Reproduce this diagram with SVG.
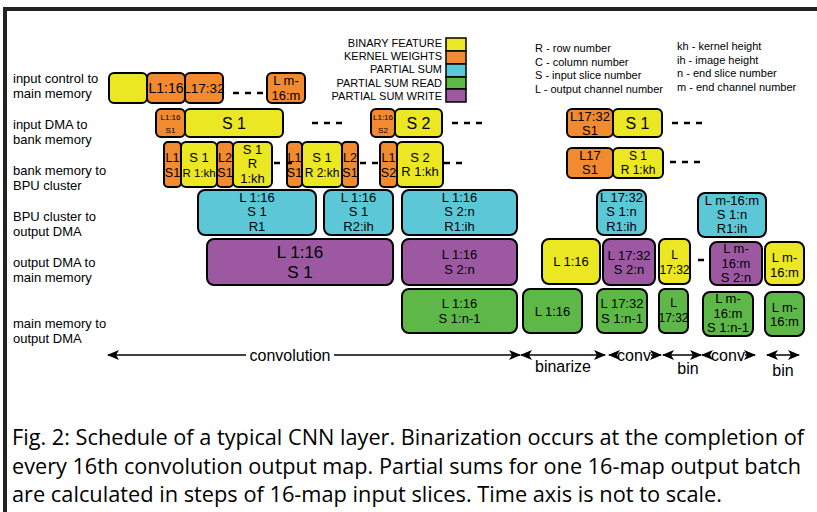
<svg xmlns="http://www.w3.org/2000/svg" width="817" height="512" viewBox="0 0 817 512">
<defs>
<marker id="ah" viewBox="0 0 12 10" refX="11" refY="5" markerWidth="12" markerHeight="10" markerUnits="userSpaceOnUse" orient="auto-start-reverse">
<path d="M0,0 L12,5 L0,10 L3,5 Z" fill="#000"/>
</marker>
<style>
.b{stroke:#000;stroke-width:2;}
.y{fill:#EBE723;}
.o{fill:#F28A30;}
.c{fill:#5CC8D7;}
.g{fill:#5DB848;}
.p{fill:#9C58A1;}
text{font-family:"Liberation Sans",Arial,sans-serif;fill:#000;}
.t{text-anchor:middle;font-size:13px;}
.lab{font-size:13px;}
.leg{font-size:11px;text-anchor:end;}
.ab{font-size:11px;}
.ds{stroke:#000;stroke-width:2.5;stroke-dasharray:6,6;fill:none;}
.ar{stroke:#000;stroke-width:1.5;fill:none;}
.cap{font-family:"Open Sans","Noto Sans",sans-serif;font-size:21px;}
</style>
</defs>
<rect width="817" height="512" fill="#fff"/>
<path d="M5,512 V9 H817" fill="none" stroke="#222" stroke-width="4"/>

<g id="row-labels" class="lab">
<text x="13" y="83">input control to</text><text x="13" y="98">main memory</text>
<text x="13" y="129">input DMA to</text><text x="13" y="144">bank memory</text>
<text x="13" y="175">bank memory to</text><text x="13" y="190">BPU cluster</text>
<text x="13" y="221">BPU cluster to</text><text x="13" y="236">output DMA</text>
<text x="13" y="267">output DMA to</text><text x="13" y="282">main memory</text>
<text x="13" y="328">main memory to</text><text x="13" y="343">output DMA</text>
</g>

<g id="legend">
<text class="leg" x="442" y="47">BINARY FEATURE</text>
<text class="leg" x="442" y="60">KERNEL WEIGHTS</text>
<text class="leg" x="442" y="73">PARTIAL SUM</text>
<text class="leg" x="442" y="87">PARTIAL SUM READ</text>
<text class="leg" x="442" y="100">PARTIAL SUM WRITE</text>
<rect class="y" x="446" y="38" width="20" height="13" stroke="#000" stroke-width="1.5"/>
<rect class="o" x="446" y="51" width="20" height="13" stroke="#000" stroke-width="1.5"/>
<rect class="c" x="446" y="64" width="20" height="13" stroke="#000" stroke-width="1.5"/>
<rect class="g" x="446" y="77" width="20" height="12" stroke="#000" stroke-width="1.5"/>
<rect class="p" x="446" y="89" width="20" height="13" stroke="#000" stroke-width="1.5"/>
</g>

<g id="abbrev" class="ab">
<text x="535" y="52">R - row number</text>
<text x="535" y="66">C - column number</text>
<text x="535" y="79">S - input slice number</text>
<text x="535" y="93">L - output channel number</text>
<text x="677" y="50">kh - kernel height</text>
<text x="677" y="64">ih - image height</text>
<text x="677" y="77">n - end slice number</text>
<text x="677" y="91">m - end channel number</text>
</g>

<!-- Row 1 -->
<g id="r1-bin"><rect class="b y" x="109" y="73" width="38" height="30" rx="5"/></g>
<g id="r1-k1"><rect class="b o" x="147" y="73" width="38" height="30" rx="5"/><text class="t" x="166" y="93" style="font-size:14px">L1:16</text></g>
<g id="r1-k2"><rect class="b o" x="185" y="73" width="38" height="30" rx="5"/><text class="t" x="204" y="93" style="font-size:13.5px">L17:32</text></g>
<g id="r1-k3"><rect class="b o" x="267" y="73" width="38" height="30" rx="5"/><text class="t" x="286" y="85" style="font-size:13px">L m-</text><text class="t" x="286" y="100" style="font-size:13px">16:m</text></g>

<!-- Row 2 -->
<g id="r2-k1"><rect class="b o" x="156" y="109" width="29" height="28" rx="5"/><text class="t" x="170.5" y="120" style="font-size:8px">L1:16</text><text class="t" x="170.5" y="133" style="font-size:8px">S1</text></g>
<g id="r2-s1"><rect class="b y" x="185" y="109" width="98" height="28" rx="5"/><text class="t" x="234" y="129" style="font-size:16px">S 1</text></g>
<g id="r2-k2"><rect class="b o" x="371" y="109" width="24" height="28" rx="5"/><text class="t" x="383" y="120" style="font-size:8px">L1:16</text><text class="t" x="383" y="133" style="font-size:8px">S2</text></g>
<g id="r2-s2"><rect class="b y" x="395" y="109" width="47" height="28" rx="5"/><text class="t" x="418.5" y="129" style="font-size:16px">S 2</text></g>
<g id="r2-k3"><rect class="b o" x="567" y="109" width="46" height="28" rx="5"/><text class="t" x="590" y="121" style="font-size:13px">L17:32</text><text class="t" x="590" y="135" style="font-size:13px">S1</text></g>
<g id="r2-s3"><rect class="b y" x="613" y="109" width="49" height="28" rx="5"/><text class="t" x="637.5" y="129" style="font-size:16px">S 1</text></g>

<!-- Row 3 -->
<g id="r3-a1"><rect class="b o" x="164" y="142" width="17" height="45" rx="4"/><text class="t" x="172.5" y="162" style="font-size:12.5px">L1</text><text class="t" x="172.5" y="177" style="font-size:12.5px">S1</text></g>
<g id="r3-a2"><rect class="b y" x="181" y="142" width="36" height="45" rx="5"/><text class="t" x="199" y="162" style="font-size:13px">S 1</text><text class="t" x="199" y="177" style="font-size:11.5px">R 1:kh</text></g>
<g id="r3-a3"><rect class="b o" x="217" y="142" width="16" height="45" rx="4"/><text class="t" x="225" y="162" style="font-size:12.5px">L2</text><text class="t" x="225" y="177" style="font-size:12.5px">S1</text></g>
<g id="r3-a4"><rect class="b y" x="233" y="142" width="39" height="45" rx="5"/><text class="t" x="252.5" y="154" style="font-size:13px">S 1</text><text class="t" x="252.5" y="168" style="font-size:13px">R</text><text class="t" x="252.5" y="183" style="font-size:13px">1:kh</text></g>
<g id="r3-b1"><rect class="b o" x="287" y="142" width="15" height="45" rx="4"/><text class="t" x="294.5" y="162" style="font-size:12.5px">L1</text><text class="t" x="294.5" y="177" style="font-size:12.5px">S1</text></g>
<g id="r3-b2"><rect class="b y" x="302" y="142" width="40" height="45" rx="5"/><text class="t" x="322" y="162" style="font-size:13px">S 1</text><text class="t" x="322" y="177" style="font-size:12px">R 2:kh</text></g>
<g id="r3-b3"><rect class="b o" x="342" y="142" width="16" height="45" rx="4"/><text class="t" x="350" y="162" style="font-size:12.5px">L2</text><text class="t" x="350" y="177" style="font-size:12.5px">S1</text></g>
<g id="r3-c1"><rect class="b o" x="380" y="142" width="17" height="45" rx="4"/><text class="t" x="388.5" y="162" style="font-size:12.5px">L1</text><text class="t" x="388.5" y="177" style="font-size:12.5px">S2</text></g>
<g id="r3-c2"><rect class="b y" x="397" y="142" width="46" height="45" rx="5"/><text class="t" x="420" y="162" style="font-size:13px">S 2</text><text class="t" x="420" y="176" style="font-size:13px">R 1:kh</text></g>
<g id="r3-d1"><rect class="b o" x="567" y="148" width="46" height="30" rx="5"/><text class="t" x="590" y="160" style="font-size:13px">L17</text><text class="t" x="590" y="174" style="font-size:13px">S1</text></g>
<g id="r3-d2"><rect class="b y" x="613" y="148" width="50" height="30" rx="5"/><text class="t" x="638" y="160" style="font-size:12px">S 1</text><text class="t" x="638" y="174" style="font-size:12px">R 1:kh</text></g>

<!-- Row 4 -->
<g id="r4-a"><rect class="b c" x="198" y="190" width="118" height="45" rx="7"/><text class="t" x="257" y="202">L 1:16</text><text class="t" x="257" y="216">S 1</text><text class="t" x="257" y="231">R1</text></g>
<g id="r4-b"><rect class="b c" x="324" y="190" width="69" height="45" rx="7"/><text class="t" x="358.5" y="202">L 1:16</text><text class="t" x="358.5" y="216">S 1</text><text class="t" x="358.5" y="231">R2:ih</text></g>
<g id="r4-c"><rect class="b c" x="402" y="190" width="115" height="45" rx="7"/><text class="t" x="459.5" y="202">L 1:16</text><text class="t" x="459.5" y="216">S 2:n</text><text class="t" x="459.5" y="231">R1:ih</text></g>
<g id="r4-d"><rect class="b c" x="597" y="190" width="49" height="45" rx="7"/><text class="t" x="621.5" y="202">L 17:32</text><text class="t" x="621.5" y="216">S  1:n</text><text class="t" x="621.5" y="231">R1:ih</text></g>
<g id="r4-e"><rect class="b c" x="698" y="193" width="68" height="44" rx="7"/><text class="t" x="732" y="205">L m-16:m</text><text class="t" x="732" y="219">S  1:n</text><text class="t" x="732" y="233">R1:ih</text></g>

<!-- Row 5 -->
<g id="r5-a"><rect class="b p" x="207" y="239" width="186" height="46" rx="7"/><text class="t" x="300" y="258" style="font-size:17px">L 1:16</text><text class="t" x="300" y="278" style="font-size:17px">S 1</text></g>
<g id="r5-b"><rect class="b p" x="402" y="239" width="115" height="46" rx="7"/><text class="t" x="459.5" y="259">L 1:16</text><text class="t" x="459.5" y="274">S 2:n</text></g>
<g id="r5-c"><rect class="b y" x="542" y="239" width="58" height="45" rx="7"/><text class="t" x="571" y="266">L 1:16</text></g>
<g id="r5-d"><rect class="b p" x="603" y="239" width="52" height="46" rx="7"/><text class="t" x="629" y="260">L 17:32</text><text class="t" x="629" y="274">S 2:n</text></g>
<g id="r5-e"><rect class="b y" x="659" y="239" width="31" height="45" rx="6"/><text class="t" x="674.5" y="259" style="font-size:12px">L</text><text class="t" x="674.5" y="274" style="font-size:12px">17:32</text></g>
<g id="r5-f"><rect class="b p" x="710" y="242" width="52" height="43" rx="7"/><text class="t" x="736" y="253">L m-</text><text class="t" x="736" y="268">16:m</text><text class="t" x="736" y="282">S 2:n</text></g>
<g id="r5-g"><rect class="b y" x="765" y="242" width="39" height="43" rx="7"/><text class="t" x="784.5" y="262">L m-</text><text class="t" x="784.5" y="277">16:m</text></g>

<!-- Row 6 -->
<g id="r6-a"><rect class="b g" x="402" y="289" width="115" height="44" rx="7"/><text class="t" x="459.5" y="308">L 1:16</text><text class="t" x="459.5" y="323">S 1:n-1</text></g>
<g id="r6-b"><rect class="b g" x="523" y="289" width="59" height="44" rx="7"/><text class="t" x="552.5" y="316">L 1:16</text></g>
<g id="r6-c"><rect class="b g" x="597" y="289" width="50" height="44" rx="7"/><text class="t" x="622" y="308">L 17:32</text><text class="t" x="622" y="323">S 1:n-1</text></g>
<g id="r6-d"><rect class="b g" x="659" y="289" width="29" height="44" rx="6"/><text class="t" x="673.5" y="307" style="font-size:12px">L</text><text class="t" x="673.5" y="322" style="font-size:12px">17:32</text></g>
<g id="r6-e"><rect class="b g" x="703" y="292" width="50" height="44" rx="7"/><text class="t" x="728" y="303">L m-</text><text class="t" x="728" y="318">16:m</text><text class="t" x="728" y="332">S 1:n-1</text></g>
<g id="r6-f"><rect class="b g" x="765" y="292" width="39" height="44" rx="7"/><text class="t" x="784.5" y="312">L m-</text><text class="t" x="784.5" y="326">16:m</text></g>

<g id="connectors">
<line class="ds" x1="233" y1="93" x2="265" y2="93"/>
<line class="ds" x1="312" y1="123" x2="344" y2="123"/>
<line class="ds" x1="452" y1="123" x2="484" y2="123"/>
<line class="ds" x1="672" y1="123" x2="704" y2="123"/>
<line class="ds" x1="274" y1="163" x2="292" y2="163"/>
<line class="ds" x1="360" y1="163" x2="380" y2="163"/>
<line class="ds" x1="444" y1="163" x2="464" y2="163"/>
<line class="ds" x1="670" y1="162" x2="702" y2="162"/>
<line class="ds" x1="698" y1="260" x2="704" y2="260"/>

<line class="ar" x1="108" y1="355" x2="246" y2="355" marker-start="url(#ah)"/>
<line class="ar" x1="334" y1="355" x2="520" y2="355" marker-end="url(#ah)"/>
<line class="ar" x1="521" y1="355" x2="605" y2="355" marker-start="url(#ah)" marker-end="url(#ah)"/>
<line class="ar" x1="609" y1="355" x2="617" y2="355" marker-start="url(#ah)"/>
<line class="ar" x1="651" y1="355" x2="661" y2="355" marker-end="url(#ah)"/>
<line class="ar" x1="663" y1="355" x2="701" y2="355" marker-start="url(#ah)" marker-end="url(#ah)"/>
<line class="ar" x1="702" y1="355" x2="710" y2="355" marker-start="url(#ah)"/>
<line class="ar" x1="745" y1="355" x2="755" y2="355" marker-end="url(#ah)"/>
<line class="ar" x1="767" y1="355" x2="799" y2="355" marker-start="url(#ah)" marker-end="url(#ah)"/>
</g>

<g id="phase-labels" style="font-size:16px">
<text x="290" y="361" text-anchor="middle" style="font-size:16px">convolution</text>
<text x="563" y="372" text-anchor="middle" style="font-size:16px">binarize</text>
<text x="634" y="361" text-anchor="middle" style="font-size:16px">conv</text>
<text x="688" y="374" text-anchor="middle" style="font-size:16px">bin</text>
<text x="728" y="361" text-anchor="middle" style="font-size:16px">conv</text>
<text x="783" y="376" text-anchor="middle" style="font-size:16px">bin</text>
</g>

<g id="caption">
<text class="cap" x="12" y="445" textLength="792" lengthAdjust="spacingAndGlyphs">Fig. 2: Schedule of a typical CNN layer. Binarization occurs at the completion of</text>
<text class="cap" x="12" y="474" textLength="789" lengthAdjust="spacingAndGlyphs">every 16th convolution output map. Partial sums for one 16-map output batch</text>
<text class="cap" x="12" y="502" textLength="710" lengthAdjust="spacingAndGlyphs">are calculated in steps of 16-map input slices. Time axis is not to scale.</text>
</g>
</svg>
